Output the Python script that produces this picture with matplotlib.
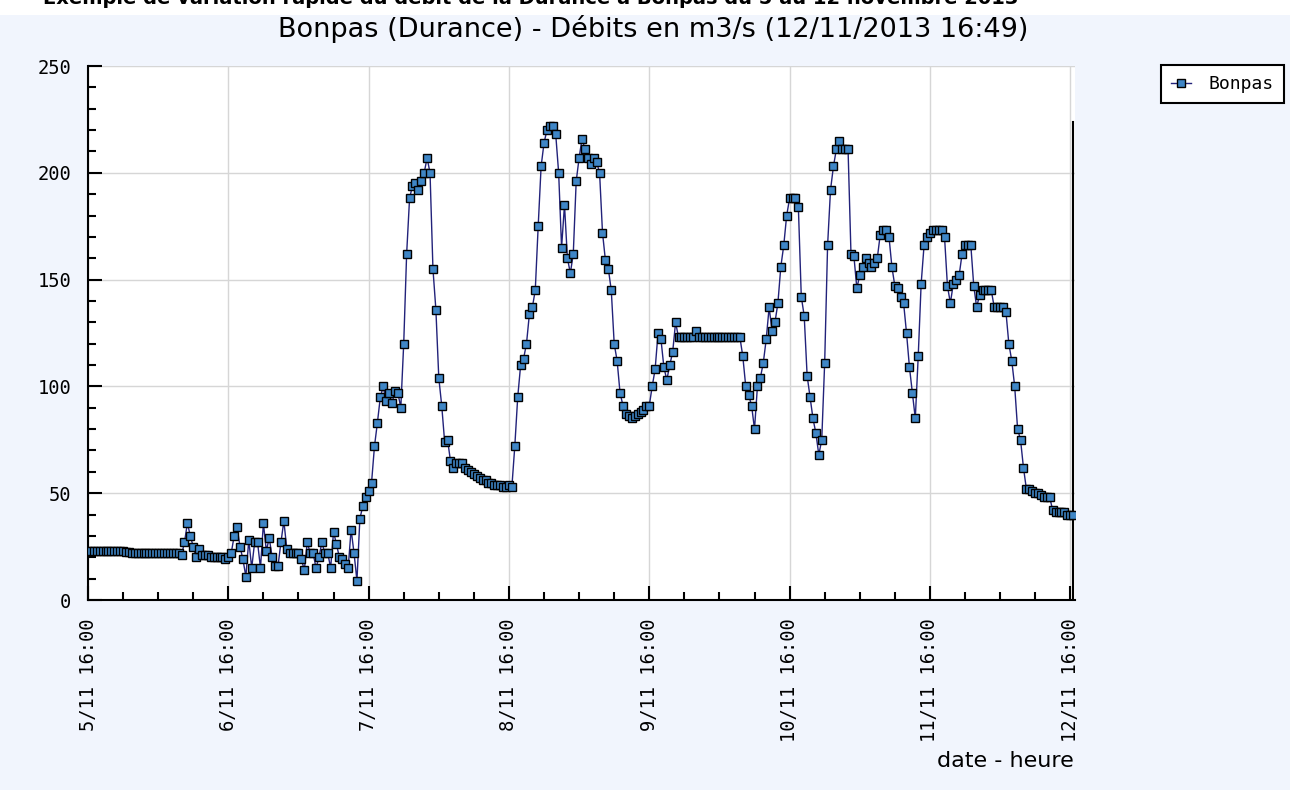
import matplotlib
matplotlib.use("Agg")
import matplotlib.pyplot as plt
import matplotlib.dates as mdates
from matplotlib.patches import Rectangle
from matplotlib.ticker import MultipleLocator, FuncFormatter
import pandas as pd

# debits (m3/s), one value every 30 min, day by day from 16:00
day1 = [23, 23, 23, 23, 23, 23, 23, 23, 23, 23, 23, 23, 23, 22.5, 22.5,
        22, 22, 22, 22, 22, 22, 22, 22, 22, 22, 22, 22, 22, 22, 22, 22, 22,
        21, 27, 36, 30, 25, 20, 24, 21, 21, 21, 20, 20, 20, 20, 20, 19]
day2 = [20, 22, 30, 34, 25, 19, 11, 28, 15, 27, 27, 15, 36, 23, 29, 20,
        16, 16, 27, 37, 24, 22, 22, 22, 22, 19, 14, 27, 22, 22, 15, 20,
        27, 22, 22, 15, 32, 26, 20, 19, 17, 15, 33, 22, 9, 38, 44, 48]
day3 = [51, 55, 72, 83, 95, 100, 93, 97, 92, 98, 97, 90, 120, 162, 188,
        194, 195, 192, 196, 200, 207, 200, 155, 136, 104, 91, 74, 75, 65,
        62, 64, 64, 64, 62, 61, 60, 59, 58, 57, 56, 56, 55, 55, 54, 54, 54,
        53, 53]
day4 = [54, 53, 72, 95, 110, 113, 120, 134, 137, 145, 175, 203, 214, 220,
        222, 222, 218, 200, 165, 185, 160, 153, 162, 196, 207, 216, 211,
        207, 204, 207, 205, 200, 172, 159, 155, 145, 120, 112, 97, 91, 87,
        86, 85, 86, 87, 88, 89, 91]
day5 = [91, 100, 108, 125, 122, 109, 103, 110, 116, 130, 123, 123, 123,
        123, 123, 123, 126, 123, 123, 123, 123, 123, 123, 123, 123, 123,
        123, 123, 123, 123, 123, 123, 114, 100, 96, 91, 80, 100, 104, 111,
        122, 137, 126, 130, 139, 156, 166, 180]
day6 = [188, 188, 188, 184, 142, 133, 105, 95, 85, 78, 68, 75, 111, 166,
        192, 203, 211, 215, 211, 211, 211, 162, 161, 146, 152, 156, 160,
        158, 156, 158, 160, 171, 173, 173, 170, 156, 147, 146, 142, 139,
        125, 109, 97, 85, 114, 148, 166, 170]
day7 = [172, 173, 173, 173, 173, 170, 147, 139, 148, 150, 152, 162, 166,
        166, 166, 147, 137, 143, 145, 145, 145, 145, 137, 137, 137, 137,
        135, 120, 112, 100, 80, 75, 62, 52, 52, 51, 50, 50, 49, 48, 48, 48,
        42, 41, 41, 41, 41, 40, 40, 40]

flow = day1 + day2 + day3 + day4 + day5 + day6 + day7
times = pd.date_range("2013-11-05 16:00", periods=len(flow), freq="30min")
x_start = pd.Timestamp("2013-11-05 16:00")
x_end = pd.Timestamp("2013-11-12 16:49")

W, H = 1290, 790
bg = "#f1f5fd"
mono = "DejaVu Sans Mono"

fig = plt.figure(figsize=(W / 100, H / 100), dpi=100, facecolor=bg)
fig.patches.append(Rectangle((0, 1 - 15 / H), 1, 15 / H, transform=fig.transFigure,
                             facecolor="white", edgecolor="none", zorder=0))
fig.text(43 / W, 1 - 3.5 / H,
         "Exemple de variation rapide du débit de la Durance à Bonpas du 5 au 12 novembre 2013",
         fontsize=14, fontweight="bold", va="baseline", ha="left")

ax = fig.add_axes([88 / W, 1 - 600 / H, (1075 - 88) / W, (600 - 66) / H])
ax.set_facecolor("white")
ax.plot(times, flow, color="#22227a", lw=1, marker="s", ms=5.5,
        mfc="#3f86c6", mec="black", mew=1, label="Bonpas", zorder=3)
ax.axvline(times[-1], ymin=0, ymax=(600 - 122) / (600 - 66), color="black", lw=1.5)

ax.set_xlim(x_start, x_end)
ax.set_ylim(0, 250)
ax.yaxis.set_major_locator(MultipleLocator(50))
ax.yaxis.set_minor_locator(MultipleLocator(10))
ax.xaxis.set_major_locator(mdates.HourLocator(byhour=[16]))
ax.xaxis.set_minor_locator(mdates.HourLocator(byhour=[4, 10, 22]))


def fmt_date(v, pos):
    d = mdates.num2date(v)
    return f"{d.day}/{d.month} {d:%H:%M}"


ax.xaxis.set_major_formatter(FuncFormatter(fmt_date))
ax.tick_params(which="major", direction="in", length=10, width=1.5, labelsize=13.5)
ax.tick_params(which="minor", direction="in", length=6, width=1.5)
ax.tick_params(axis="x", labelrotation=90, pad=13)
ax.tick_params(axis="y", pad=12)
for lab in ax.get_xticklabels() + ax.get_yticklabels():
    lab.set_family(mono)

ax.grid(True, which="major", color="#d6d6d6", lw=1)
ax.set_axisbelow(True)
for s in ["top", "right"]:
    ax.spines[s].set_visible(False)
for s in ["left", "bottom"]:
    ax.spines[s].set_linewidth(1.5)

fig.text(0.506, 1 - 37 / H, "Bonpas (Durance) - Débits en m3/s (12/11/2013 16:49)",
         ha="center", va="baseline", fontsize=19.5)
fig.text(1074 / W, 1 - 767 / H, "date - heure", ha="right", va="baseline", fontsize=16)

leg = ax.legend(loc="upper left", bbox_to_anchor=(1161 / W, 1 - 65 / H),
                bbox_transform=fig.transFigure, fancybox=False, framealpha=1,
                edgecolor="black", prop={"family": mono, "size": 13},
                handlelength=1.1, borderpad=0.55, handletextpad=1.0, borderaxespad=0)
leg.get_frame().set_linewidth(1.5)

fig.savefig("out.png", dpi=100, facecolor=bg)
